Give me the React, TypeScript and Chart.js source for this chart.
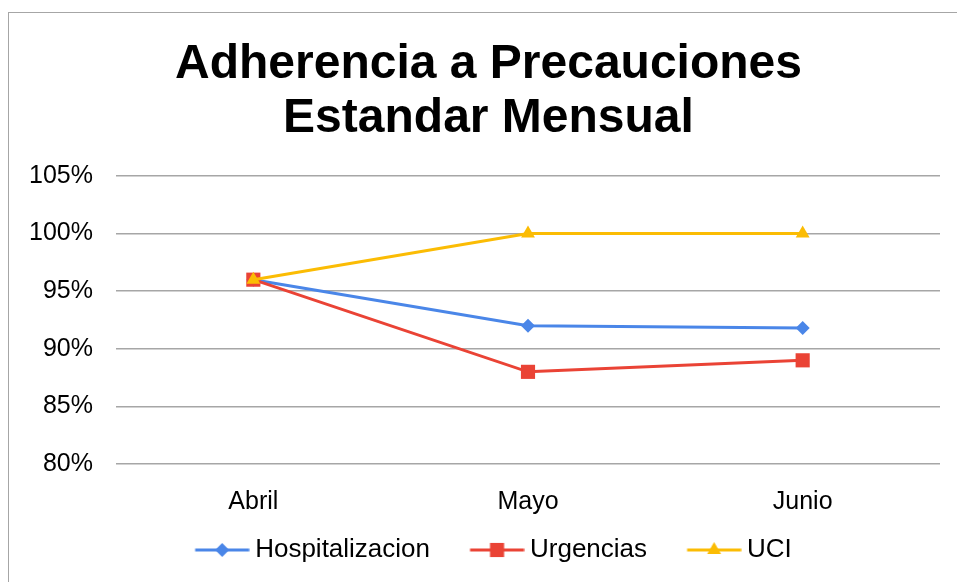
import React, { useEffect, useRef } from 'react';
import { Chart, registerables } from 'chart.js';

Chart.register(...registerables);

const categories = ['Abril', 'Mayo', 'Junio'];
const seriesNames = ['Hospitalizacion', 'Urgencias', 'UCI'];
const hospitalizacion = [96, 92, 91.8];
const urgencias = [96, 88, 89];
const uci = [96, 100, 100];
const yTicks = [80, 85, 90, 95, 100, 105];
const titleLines = ['Adherencia a Precauciones', 'Estandar Mensual'];

const FONT = "'Liberation Sans', Arial, Helvetica, sans-serif";
const COLORS = ['#4A86E8', '#EA4335', '#FBBC04'];
const STYLES = ['rectRot', 'rect', 'triangle'];
const RADII = [7, 10, 8];

function drawMarker(ctx: CanvasRenderingContext2D, style: string, x: number, y: number, r: number) {
  ctx.beginPath();
  if (style === 'rectRot') {
    ctx.moveTo(x - r, y);
    ctx.lineTo(x, y - r);
    ctx.lineTo(x + r, y);
    ctx.lineTo(x, y + r);
  } else if (style === 'rect') {
    const s = Math.SQRT1_2 * r;
    ctx.rect(x - s, y - s, 2 * s, 2 * s);
  } else {
    for (let i = 0; i < 3; i++) {
      const a = (i * 2 * Math.PI) / 3;
      const px = x + Math.sin(a) * r;
      const py = y - Math.cos(a) * r;
      if (i === 0) ctx.moveTo(px, py);
      else ctx.lineTo(px, py);
    }
  }
  ctx.closePath();
  ctx.fill();
}

// legend icon: line with marker; the box is 57 wide, the visible line starts 10px into it
function makeLegendIcon(color: string, style: string, r: number) {
  const c = document.createElement('canvas');
  c.width = 72;
  c.height = 24;
  const ctx = c.getContext('2d') as CanvasRenderingContext2D;
  ctx.strokeStyle = color;
  ctx.fillStyle = color;
  ctx.lineWidth = 3;
  ctx.beginPath();
  ctx.moveTo(17.5, 12);
  ctx.lineTo(71.5, 12);
  ctx.stroke();
  drawMarker(ctx, style, 44.5, 12, r);
  return c;
}

const shiftPlugin = {
  id: 'shiftBoxes',
  afterLayout(chart: any) {
    const lg = chart.legend;
    if (lg) {
      lg.left += 5;
      lg.right += 5;
      lg.top -= 9;
      lg.bottom -= 9;
    }
    const t = chart.titleBlock;
    if (t) {
      t.left += 5;
      t.right += 5;
    }
  },
};

export default function App() {
  const ref = useRef<HTMLCanvasElement | null>(null);

  useEffect(() => {
    if (!ref.current) return;
    const values = [hospitalizacion, urgencias, uci];
    const icons = COLORS.map((c, i) => makeLegendIcon(c, STYLES[i], RADII[i]));
    const chart = new Chart(ref.current, {
      type: 'line',
      data: {
        labels: categories,
        datasets: seriesNames.map((name, i) => ({
          label: name,
          data: values[i],
          borderColor: COLORS[i],
          backgroundColor: COLORS[i],
          borderWidth: 3,
          pointStyle: STYLES[i] as any,
          pointRadius: RADII[i],
          pointHoverRadius: RADII[i],
          pointBorderWidth: 0,
          pointBackgroundColor: COLORS[i],
          fill: false,
          tension: 0,
          order: 3 - i,
        })),
      },
      plugins: [shiftPlugin],
      options: {
        responsive: false,
        animation: false,
        devicePixelRatio: 1,
        layout: { padding: { left: 18, right: 17, top: 0, bottom: 0 } },
        plugins: {
          tooltip: { enabled: false },
          title: {
            display: true,
            text: titleLines,
            color: '#000',
            font: { family: FONT, size: 48, weight: 'bold', lineHeight: 1.125 },
            padding: { top: 25, bottom: 30 },
          },
          legend: {
            display: true,
            position: 'bottom',
            labels: {
              usePointStyle: true,
              pointStyleWidth: 57,
              padding: 30,
              color: '#000',
              font: { family: FONT, size: 26 },
              sort: (a: any, b: any) => a.datasetIndex - b.datasetIndex,
              generateLabels: (ch: any) => {
                const items = Chart.defaults.plugins.legend.labels.generateLabels(ch);
                return items.map((it: any) => ({ ...it, pointStyle: icons[it.datasetIndex] }));
              },
            },
          },
        },
        scales: {
          x: {
            offset: true,
            grid: { display: false },
            border: { display: false },
            ticks: { color: '#000', padding: 15, font: { family: FONT, size: 25 } },
            afterFit: (s: any) => {
              s.height = 52;
            },
          },
          y: {
            min: 80,
            max: 105,
            grid: { color: '#A6A6A6', lineWidth: 1.5, drawTicks: false },
            border: { display: false },
            ticks: {
              color: '#000',
              padding: 23,
              font: { family: FONT, size: 25 },
              callback: (v: any) => v + '%',
            },
            afterBuildTicks: (s: any) => {
              s.ticks = yTicks.map((v) => ({ value: v }));
            },
            afterFit: (s: any) => {
              s.width = 89;
            },
          },
        },
      },
    });
    return () => chart.destroy();
  }, []);

  return (
    <div
      style={{
        position: 'absolute',
        left: 8,
        top: 12,
        width: 949,
        height: 570,
        borderLeft: '1px solid #A6A6A6',
        borderTop: '1px solid #A6A6A6',
        background: '#fff',
      }}
    >
      <canvas ref={ref} width={948} height={569} style={{ display: 'block' }} />
    </div>
  );
}
